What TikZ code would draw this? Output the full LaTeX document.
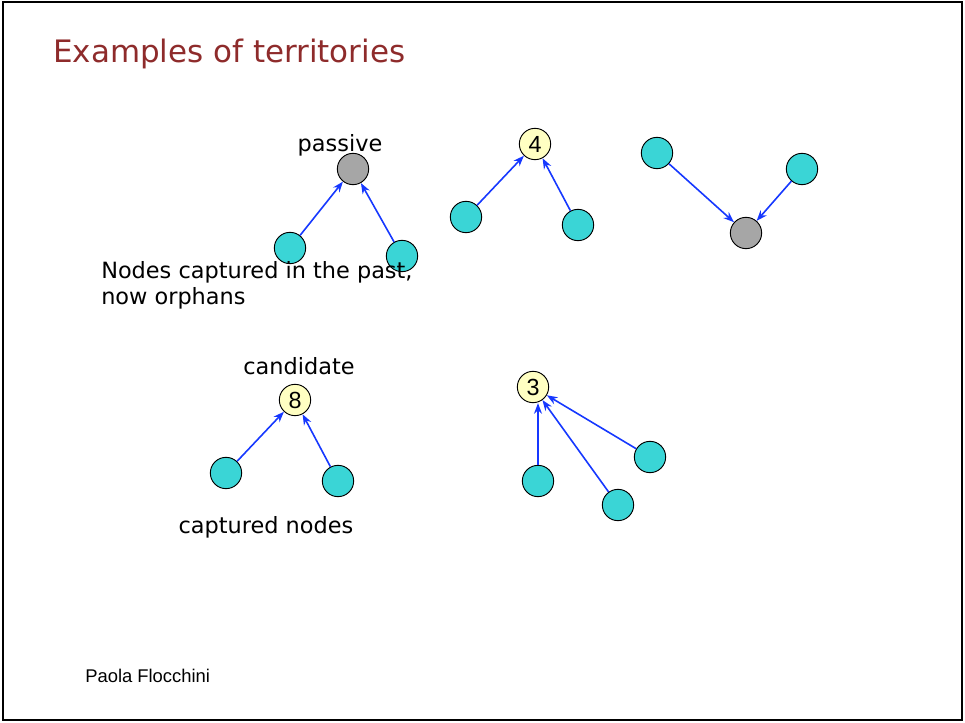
\documentclass[tikz,border=0pt]{standalone}
\usepackage{fontspec}
\setmainfont{DejaVu Sans}
\newfontfamily\footfont{Liberation Sans}
\usetikzlibrary{arrows.meta}
\definecolor{titlered}{HTML}{8E2B2B}
\definecolor{nodecyan}{HTML}{3AD5D6}
\definecolor{nodegray}{HTML}{A6A6A6}
\definecolor{nodeyellow}{HTML}{FFFFC2}
\definecolor{arrowblue}{HTML}{1638FF}
\tikzset{
  vtx/.style={circle, draw=black, line width=0.7pt, minimum size=23.5pt, inner sep=0pt, font=\footfont\fontsize{17.5}{17.5}\selectfont},
  cyannode/.style={vtx, fill=nodecyan},
  graynode/.style={vtx, fill=nodegray},
  yellownode/.style={vtx, fill=nodeyellow},
  link/.style={draw=arrowblue, line width=1.2pt, -{Stealth[length=8pt,width=6pt]}},
  body/.style={font=\fontsize{16.8}{20}\selectfont, inner sep=0pt}
}
\begin{document}
\begin{tikzpicture}[x=0.75pt,y=-0.75pt]
\useasboundingbox (0,0) rectangle (965,723);
\draw[line width=1.3pt] (3,2) rectangle (962,720);
\node[anchor=base west, inner sep=0pt, text=titlered, font=\fontsize{23.2}{23}\selectfont] (title) at (53,63) {Examples of territories};
% group 1: passive
\node[graynode] (p1) at (353,169) {};
\node[cyannode] (p1a) at (290,248) {};
\node[cyannode] (p1b) at (402,256) {};
\node[body, anchor=base] (lpassive) at (340,152) {passive};
\draw[link] (p1a) -- (p1);
\draw[link] (p1b) -- (p1);
% group 2: 4
\node[yellownode] (c4) at (535,144) {4};
\node[cyannode] (c4a) at (466,217) {};
\node[cyannode] (c4b) at (578,225) {};
\draw[link] (c4a) -- (c4);
\draw[link] (c4b) -- (c4);
% group 3
\node[cyannode] (g3a) at (657,153) {};
\node[cyannode] (g3b) at (802,169) {};
\node[graynode] (g3) at (746,233) {};
\draw[link] (g3a) -- (g3);
\draw[link] (g3b) -- (g3);
% orphans text
\node[body, anchor=base west] (lorph) at (101,279) {Nodes captured in the past,};
\node[body, anchor=base west] (lorph2) at (101,305) {now orphans};
% group 4: candidate 8
\node[yellownode] (c8) at (295,400) {8};
\node[cyannode] (c8a) at (226,473) {};
\node[cyannode] (c8b) at (338,481) {};
\node[body, anchor=base] (lcand) at (299,375) {candidate};
\node[body, anchor=base] (lcapt) at (266,534) {captured nodes};
\draw[link] (c8a) -- (c8);
\draw[link] (c8b) -- (c8);
% group 5: 3
\node[yellownode] (c3) at (533,387) {3};
\node[cyannode] (c3a) at (538,481) {};
\node[cyannode] (c3b) at (618,505) {};
\node[cyannode] (c3c) at (650,457) {};
\draw[link] (c3a) -- (c3a |- c3.south);
\draw[link] (c3b) -- (c3);
\draw[link] (c3c) -- (c3);
% footer
\node[anchor=base west, inner sep=0pt, font=\footfont\fontsize{13.8}{14}\selectfont] (foot) at (85,682) {Paola Flocchini};
\end{tikzpicture}
\end{document}
